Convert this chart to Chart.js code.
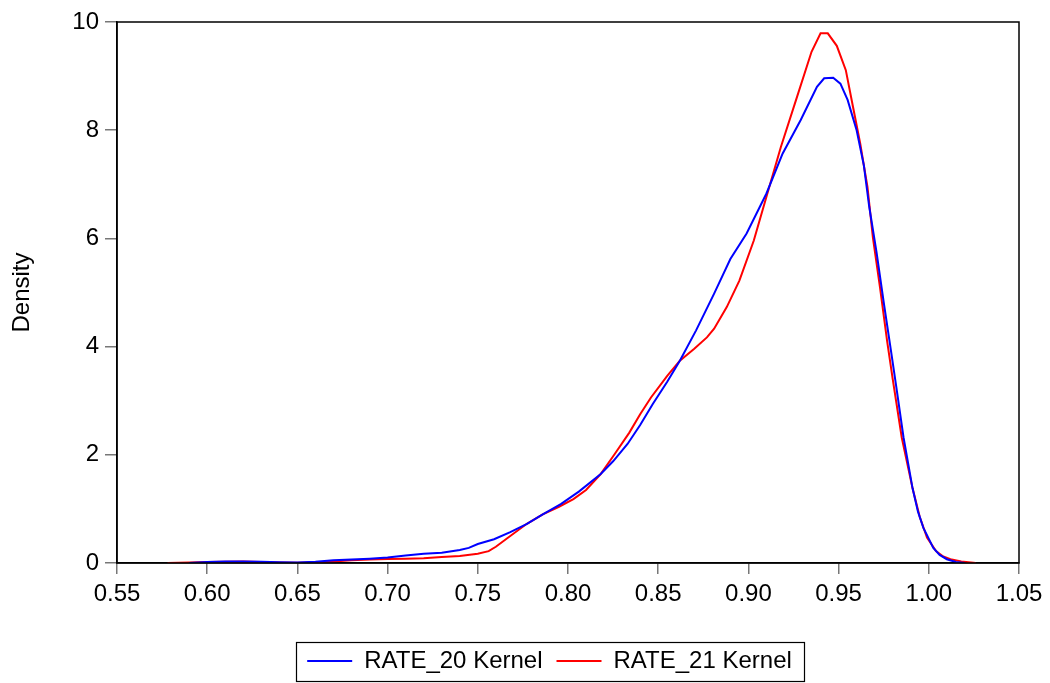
<!DOCTYPE html>
<html>
<head>
<meta charset="utf-8">
<script src="https://cdn.jsdelivr.net/npm/chart.js@4"></script>
<style>
  html, body { margin: 0; padding: 0; background: #ffffff; }
  #wrap { width: 1050px; height: 683px; }
</style>
</head>
<body>
<div id="wrap"><canvas id="c" width="1050" height="683"></canvas></div>
<script>
// ---- data ----
const seriesNames = ["RATE_20 Kernel", "RATE_21 Kernel"];

const rate20X = [0.590,0.600,0.610,0.620,0.630,0.640,0.650,0.660,0.670,0.680,0.690,0.700,0.710,0.720,0.730,0.740,0.745,0.750,0.759,0.768,0.777,0.786,0.796,0.806,0.818,0.825,0.833,0.840,0.847,0.855,0.862,0.871,0.881,0.890,0.899,0.910,0.919,0.929,0.938,0.942,0.947,0.951,0.955,0.960,0.964,0.967,0.971,0.975,0.979,0.982,0.986,0.991,0.994,0.997,1.0025,1.006,1.010,1.015,1.020];
const rate20Y = [0.00,0.02,0.03,0.03,0.025,0.015,0.01,0.025,0.05,0.065,0.08,0.10,0.14,0.17,0.19,0.24,0.28,0.35,0.44,0.57,0.72,0.90,1.09,1.32,1.64,1.88,2.20,2.55,2.94,3.35,3.74,4.30,4.98,5.62,6.09,6.83,7.57,8.19,8.80,8.96,8.97,8.86,8.56,8.00,7.35,6.58,5.75,4.82,3.93,3.25,2.32,1.38,0.95,0.65,0.28,0.15,0.07,0.02,0.00];

const rate21X = [0.578,0.590,0.600,0.610,0.620,0.630,0.640,0.650,0.660,0.670,0.680,0.690,0.700,0.710,0.720,0.730,0.740,0.750,0.756,0.760,0.768,0.777,0.786,0.795,0.803,0.810,0.818,0.826,0.834,0.840,0.846,0.855,0.862,0.870,0.877,0.881,0.888,0.895,0.903,0.910,0.918,0.927,0.935,0.940,0.944,0.949,0.954,0.958,0.962,0.966,0.969,0.973,0.977,0.980,0.985,0.991,0.995,0.999,1.004,1.008,1.012,1.018,1.026];
const rate21Y = [0.00,0.01,0.02,0.025,0.03,0.02,0.01,0.005,0.015,0.03,0.05,0.065,0.075,0.08,0.09,0.11,0.13,0.17,0.22,0.30,0.50,0.72,0.90,1.04,1.18,1.35,1.64,2.02,2.41,2.75,3.06,3.46,3.74,3.96,4.17,4.33,4.73,5.22,5.96,6.77,7.69,8.62,9.45,9.79,9.79,9.56,9.11,8.43,7.75,6.95,6.02,5.08,4.08,3.40,2.32,1.38,0.85,0.47,0.22,0.12,0.07,0.03,0.00];

const xMin = 0.55, xMax = 1.05, xStep = 0.05;
const yMin = 0, yMax = 10, yStep = 2;
const yTitle = "Density";

// ---- build chart ----
const toPts = (xs, ys) => xs.map((x, i) => ({ x: x, y: ys[i] }));
const FONT = "'Liberation Sans', Arial, sans-serif";
const LEGEND_SHIFT = 40;

const framePlugin = {
  id: 'frame',
  afterLayout(chart) {
    const lg = chart.legend;
    if (lg) { lg.left += LEGEND_SHIFT; lg.right += LEGEND_SHIFT; }
  },
  afterDraw(chart) {
    const { ctx, chartArea: a } = chart;
    ctx.save();
    ctx.strokeStyle = '#000';
    ctx.lineWidth = 1.5;
    ctx.strokeRect(a.left, a.top, a.right - a.left, a.bottom - a.top);
    const lg = chart.legend;
    if (lg && lg.legendHitBoxes && lg.legendHitBoxes.length) {
      let l = Infinity, r = -Infinity, t = Infinity, b = -Infinity;
      lg.legendHitBoxes.forEach(h => {
        l = Math.min(l, h.left); r = Math.max(r, h.left + h.width);
        t = Math.min(t, h.top); b = Math.max(b, h.top + h.height);
      });
      const cy = (t + b) / 2;
      ctx.lineWidth = 1.2;
      ctx.strokeRect(Math.round(l - 11) + 0.5, Math.round(cy - 19.5) + 0.5, Math.round(r - l + 23), 39);
    }
    ctx.restore();
  }
};

new Chart(document.getElementById('c'), {
  type: 'line',
  data: {
    datasets: [
      { label: seriesNames[0], data: toPts(rate20X, rate20Y), borderColor: '#0000ff', backgroundColor: '#0000ff', borderWidth: 2, pointRadius: 0, tension: 0, fill: false },
      { label: seriesNames[1], data: toPts(rate21X, rate21Y), borderColor: '#ff0000', backgroundColor: '#ff0000', borderWidth: 2, pointRadius: 0, tension: 0, fill: false }
    ]
  },
  options: {
    responsive: false,
    animation: false,
    devicePixelRatio: 1,
    layout: { padding: { top: 22, right: 31, left: 0, bottom: 0 } },
    plugins: {
      tooltip: { enabled: false },
      legend: {
        position: 'bottom',
        labels: {
          usePointStyle: true,
          pointStyle: 'line',
          pointStyleWidth: 45,
          color: '#000',
          padding: 14,
          font: { family: FONT, size: 24 }
        }
      }
    },
    scales: {
      x: {
        type: 'linear',
        min: xMin, max: xMax,
        afterFit(s) { s.height = 72; },
        afterBuildTicks(s) {
          const t = [];
          for (let v = xMin; v <= xMax + 1e-9; v += xStep) t.push({ value: Math.round(v * 100) / 100 });
          s.ticks = t;
        },
        ticks: {
          color: '#000',
          font: { family: FONT, size: 24 },
          padding: 6,
          maxRotation: 0,
          autoSkip: false,
          callback: v => Number(v).toFixed(2)
        },
        grid: { display: true, drawOnChartArea: false, drawTicks: true, tickLength: 11, color: '#777', lineWidth: 1.5 },
        border: { display: true, color: '#000', width: 1.5 }
      },
      y: {
        type: 'linear',
        min: yMin, max: yMax,
        afterFit(s) { s.width = 117; },
        ticks: {
          stepSize: yStep,
          color: '#000',
          font: { family: FONT, size: 24 },
          padding: 6
        },
        title: { display: true, text: yTitle, color: '#000', font: { family: FONT, size: 24 }, padding: { top: 8, bottom: 0 } },
        grid: { display: true, drawOnChartArea: false, drawTicks: true, tickLength: 12, color: '#777', lineWidth: 1.5 },
        border: { display: true, color: '#000', width: 1.5 }
      }
    }
  },
  plugins: [framePlugin]
});
</script>
</body>
</html>
